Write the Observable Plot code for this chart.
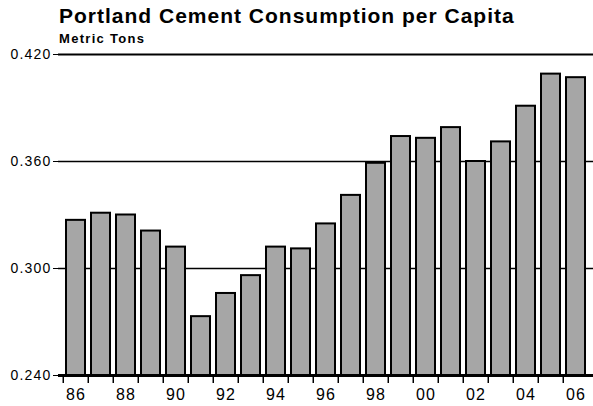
<!DOCTYPE html>
<html><head><meta charset="utf-8">
<script src="https://cdn.jsdelivr.net/npm/d3@7"></script>
<script src="https://cdn.jsdelivr.net/npm/@observablehq/plot@0.6"></script>
<style>
body{margin:0;background:#fff;font-family:"Liberation Sans",Arial,sans-serif;}
#head{position:relative;height:44px;width:593px;}
#t{position:absolute;left:59px;top:5px;font-size:21px;line-height:21px;font-weight:bold;letter-spacing:1px;color:#000;white-space:nowrap;}
#s{position:absolute;left:59px;top:32px;font-size:13px;line-height:13px;font-weight:bold;letter-spacing:1.3px;color:#000;white-space:nowrap;}
</style></head>
<body>
<div id="head"><div id="t">Portland Cement Consumption per Capita</div><div id="s">Metric Tons</div></div>
<div id="chart"></div>
<script>
const years = ["86","87","88","89","90","91","92","93","94","95","96","97","98","99","00","01","02","03","04","05","06"];
const values = [0.327,0.331,0.330,0.321,0.312,0.273,0.286,0.296,0.312,0.311,0.325,0.341,0.359,0.374,0.373,0.379,0.360,0.371,0.391,0.409,0.407];
const yTicks = [0.240,0.300,0.360,0.420];
const gridValues = [0.300,0.360];
const topLine = [0.420];
const xLabels = ["86","88","90","92","94","96","98","00","02","04","06"];

const data = years.map((y,i)=>({year:y, value:values[i]}));
const W = 593, mL = 58, mR = 0;
const step = (W - mL - mR) / years.length;

const chart = Plot.plot({
  width: W, height: 362,
  marginTop: 10, marginBottom: 31, marginLeft: mL, marginRight: mR,
  style: {fontFamily: '"Liberation Sans", Arial, sans-serif', color: "#000", background: "#fff"},
  x: {domain: years, padding: 0.24, axis: null},
  y: {domain: [0.240, 0.420], axis: null},
  marks: [
    Plot.ruleY(gridValues, {y: d=>d, stroke: "#000", strokeWidth: 1.5}),
    Plot.ruleY(topLine, {y: d=>d, stroke: "#000", strokeWidth: 2.2}),
    Plot.barY(data, {x: "year", y1: 0.240, y2: "value", fill: "#a6a6a6", stroke: "#000", strokeWidth: 2}),
    Plot.ruleY([0.240], {y: d=>d, stroke: "#000", strokeWidth: 3}),
    Plot.ruleX(years, {x: d=>d, y1: 0.240, y2: 0.2355, dx: -step/2, stroke: "#000", strokeWidth: 1.5}),
    Plot.axisX({ticks: xLabels, tickSize: 0, tickPadding: 13, fontSize: 16, anchor: "bottom", label: null}),
    Plot.axisY({ticks: yTicks, tickFormat: d3.format(".3f"), tickSize: 5, tickPadding: 2, fontSize: 14, anchor: "left", label: null})
  ]
});
d3.select(chart).selectAll("text").style("letter-spacing","1.2px");
document.getElementById("chart").appendChild(chart);
</script>
</body></html>
